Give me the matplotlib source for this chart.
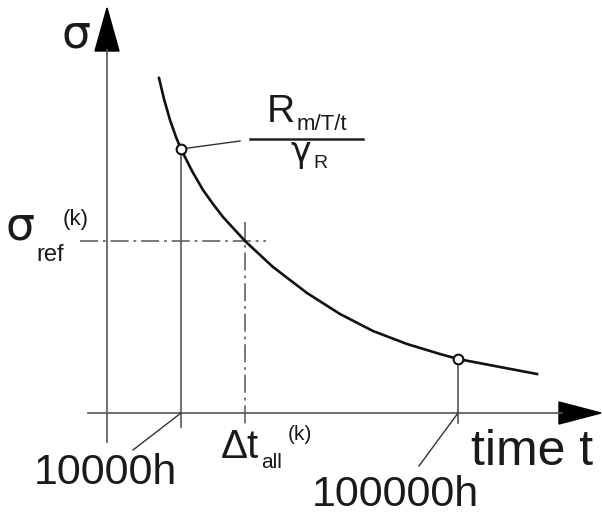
import matplotlib
matplotlib.use("Agg")
import matplotlib.pyplot as plt
from matplotlib.patches import Polygon

plt.rcParams['font.family'] = ['Liberation Sans', 'DejaVu Sans']
plt.rcParams['lines.scale_dashes'] = False

# curve (canvas units, y grows downward)
curve_t = [159, 164, 170, 176, 181, 192, 203, 213, 223, 234, 245, 259, 273,
           290, 307, 340, 373, 407, 440, 458, 500, 537]
curve_s = [78, 99, 120, 137, 149, 171, 190, 204, 217, 229, 241, 254, 267,
           280, 293, 314, 331, 344, 354, 359, 367, 374]

# marked points on the curve
pt_10000 = (181, 149)
pt_100000 = (458, 359)
# reference stress / allowed time crossing
ref_t, ref_s = 245, 241

axis_x0, axis_y0 = 107, 413
txt_col = '#1a1a1a'
ax_col = '#555555'

fig = plt.figure(figsize=(6.02, 5.15), dpi=100)
ax = fig.add_axes([0, 0, 1, 1])
ax.set_xlim(0, 602)
ax.set_ylim(515, 0)
ax.axis('off')

# axes with arrow heads
ax.plot([axis_x0, axis_x0], [50, 442], color=ax_col, lw=1.2)
ax.plot([88, 562], [axis_y0, axis_y0], color=ax_col, lw=1.2)
ax.add_patch(Polygon([[axis_x0, 8], [axis_x0 - 12, 51], [axis_x0 + 12, 51]], closed=True, color='black'))
ax.add_patch(Polygon([[601, axis_y0], [559, axis_y0 - 11], [559, axis_y0 + 11]], closed=True, color='black'))

# curve
ax.plot(curve_t, curve_s, color='#111111', lw=1.9, solid_joinstyle='round', zorder=3)

# verticals from marked points
ax.plot([pt_10000[0], pt_10000[0]], [pt_10000[1], 427], color=ax_col, lw=1.2)
ax.plot([pt_100000[0], pt_100000[0]], [pt_100000[1], 423], color=ax_col, lw=1.2)

# dash-dot reference lines
dd = (0, (13, 3.5, 2, 3.5))
ax.plot([80, 266], [ref_s, ref_s], color=ax_col, lw=1.1, linestyle=dd)
ax.plot([ref_t, ref_t], [222, 426], color=ax_col, lw=1.1, linestyle=dd)

# leader lines
ax.plot([133, pt_10000[0]], [450, axis_y0], color='#333333', lw=1.0)
ax.plot([419, pt_100000[0]], [466, axis_y0], color='#333333', lw=1.0)
ax.plot([pt_10000[0], 240], [pt_10000[1], 141], color='#333333', lw=1.0)

# open markers
for p in (pt_10000, pt_100000):
    ax.plot(p[0], p[1], marker='o', ms=7, mfc='white', mec='#111111', mew=1.5, zorder=5)

# fraction line
ax.plot([250, 363], [139, 139], color='#222222', lw=1.8)

def put(x, y, s, size, fam=None):
    kw = {}
    if fam:
        kw['family'] = fam
    ax.text(x, y, s, fontsize=size, color=txt_col, ha='left', va='baseline', **kw)

put(61, 48, 'σ', 33, 'DejaVu Sans')
put(6, 240, 'σ', 33, 'DejaVu Sans')
put(36, 261, 'ref', 17)
put(63, 225, '(k)', 16)
put(221, 458, 'Δt', 29)
put(261, 468, 'all', 15)
put(288, 440, '(k)', 15)
put(471, 465, 'time t', 36)
put(34, 484, '10000h', 31)
put(312, 506, '100000h', 31)
put(267, 122, 'R', 28)
put(297, 130, 'm/T/t', 16)
put(290, 162, 'γ', 25, 'DejaVu Sans')
put(313, 168, 'R', 14)

fig.savefig('out.png', dpi=100)
